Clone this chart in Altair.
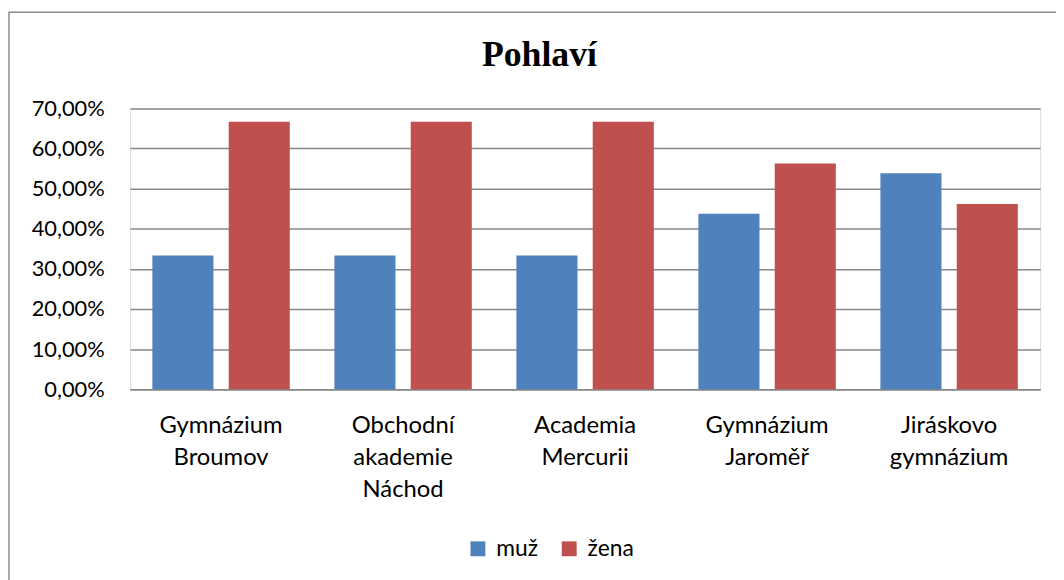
import altair as alt
import pandas as pd

schools = ["Gymnázium Broumov", "Obchodní akademie Náchod", "Academia Mercurii",
           "Gymnázium Jaroměř", "Jiráskovo gymnázium"]
muz = [0.3333, 0.3333, 0.3333, 0.4375, 0.5385]
zena = [0.6667, 0.6667, 0.6667, 0.5625, 0.4615]
series = ["muž", "žena"]
colors = ["#4F81BD", "#C0504D"]
y_ticks = [0, 0.1, 0.2, 0.3, 0.4, 0.5, 0.6, 0.7]

rows = []
for s, m, z in zip(schools, muz, zena):
    rows.append({"skola": s, "pohlavi": "muž", "podil": m})
    rows.append({"skola": s, "pohlavi": "žena", "podil": z})
df = pd.DataFrame(rows)

FONT = "Lato"
GRID = "#878787"

bars = alt.Chart(df).mark_bar().encode(
    x=alt.X("skola:N", sort=schools, title=None,
            scale=alt.Scale(paddingInner=0.245, paddingOuter=0.1225),
            axis=alt.Axis(labelAngle=0, ticks=False, domain=True, domainColor=GRID,
                          domainWidth=1.5, labelFont=FONT, labelFontSize=24,
                          labelColor="#000000", labelPadding=25, labelLineHeight=32,
                          labelExpr="split(datum.label, ' ')", grid=False)),
    xOffset=alt.XOffset("pohlavi:N", sort=series,
                        scale=alt.Scale(paddingInner=0.2, paddingOuter=0)),
    y=alt.Y("podil:Q", title=None,
            scale=alt.Scale(domain=[0, 0.7], nice=False),
            axis=alt.Axis(values=y_ticks, ticks=False, domain=False, grid=True,
                          gridColor=GRID, gridWidth=1.5, labelFont=FONT,
                          labelFontSize=22, labelColor="#000000", labelPadding=26,
                          labelExpr="replace(format(datum.value, '.2%'), '.', ',')")),
    color=alt.Color("pohlavi:N", sort=series,
                    scale=alt.Scale(domain=series, range=colors),
                    legend=alt.Legend(title=None, orient="none", direction="horizontal",
                                      legendX=339, legendY=432, symbolType="square",
                                      symbolSize=225, symbolStrokeWidth=0,
                                      labelFont=FONT, labelFontSize=23,
                                      labelColor="#000000", labelOffset=7,
                                      columnPadding=19, padding=0)),
)

border = alt.Chart(pd.DataFrame({"a": [0]})).mark_rect(
    filled=False, stroke="#8c8c8c", strokeWidth=1.5, clip=False
).encode(
    x=alt.value(-122), x2=alt.value(950),
    y=alt.value(-97), y2=alt.value(500),
)

chart = alt.layer(border, bars).properties(
    width=917, height=283,
    padding={"left": 123, "top": 99, "right": 16, "bottom": 190},
    autosize=alt.AutoSizeParams(type="none"),
    title=alt.Title("Pohlaví", font="Liberation Serif", fontSize=36,
                    fontWeight="bold", color="#000000", anchor="middle",
                    dx=-46, offset=-91, baseline="alphabetic"),
).configure_view(stroke=None).configure(background="#ffffff")

chart.save("out.html", embed_options={"renderer": "svg", "actions": False})
